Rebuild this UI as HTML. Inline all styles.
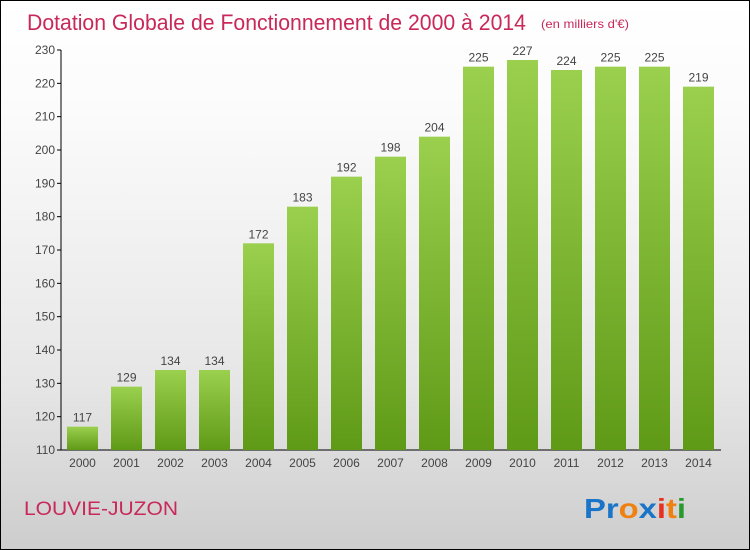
<!DOCTYPE html>
<html><head><meta charset="utf-8"><style>
body{margin:0}
#c{position:relative;width:748px;height:548px;border:1px solid #000;background:linear-gradient(#fff,#fbfbfb 20%,#e6e6e6 70%,#cdcdcd);font-family:"Liberation Sans",sans-serif;overflow:hidden}
</style></head><body>
<div id="c">
<svg width="748" height="548" id="svg" font-family="Liberation Sans, sans-serif">
<defs><linearGradient id="g" x1="0" y1="0" x2="0" y2="1"><stop offset="0" stop-color="#9ad04e"/><stop offset="1" stop-color="#5f9a17"/></linearGradient></defs>
<text x="26" y="29" font-size="22" fill="#c8285a" textLength="499" lengthAdjust="spacingAndGlyphs">Dotation Globale de Fonctionnement de 2000 à 2014</text>
<text x="540" y="27" font-size="12" fill="#c8285a" textLength="88" lengthAdjust="spacingAndGlyphs">(en milliers d'€)</text>
<text x="23" y="514" font-size="19" fill="#c8285a" textLength="154" lengthAdjust="spacingAndGlyphs">LOUVIE-JUZON</text>
<g font-size="28" font-family="Liberation Sans" font-weight="bold"><text x="583" y="517" textLength="102" lengthAdjust="spacingAndGlyphs"><tspan fill="#1a74c8">Pr</tspan><tspan fill="#f08010">o</tspan><tspan fill="#1a74c8">x</tspan><tspan fill="#e83020">i</tspan><tspan fill="#f08010">t</tspan><tspan fill="#2a9a30">i</tspan></text></g>
<g id="axes"></g><g id="bars"></g>
</svg></div>
<script>
const years=["2000","2001","2002","2003","2004","2005","2006","2007","2008","2009","2010","2011","2012","2013","2014"];
const values=[117,129,134,134,172,183,192,198,204,225,227,224,225,225,219];
const ticks=[110,120,130,140,150,160,170,180,190,200,210,220,230];
const NS="http://www.w3.org/2000/svg";
const y=v=>449-(v-110)*(400/120);
const x=i=>66+i*44;
function mk(t,a,p,txt){const e=document.createElementNS(NS,t);for(const k in a)e.setAttribute(k,a[k]);if(txt!==undefined)e.textContent=txt;p.appendChild(e);return e;}
const ax=document.getElementById('axes'),bs=document.getElementById('bars');
let l=mk('line',{x1:60,y1:y(230),x2:60,y2:449,stroke:'#000'},ax);


l=mk('line',{x1:60,y1:449,x2:720,y2:449,stroke:'#000'},ax);


ticks.forEach(t=>{
 mk('line',{x1:56,y1:y(t),x2:60,y2:y(t),stroke:'#000'},ax);
 const e=mk('text',{x:54,y:y(t)+4,'font-size':12,fill:'#444','text-anchor':'end'},ax,t);
 
 
});
years.forEach((yr,i)=>{
 const r=mk('rect',{x:x(i),y:y(values[i]),width:31,height:449-y(values[i]),fill:'url(#g)'},bs);
 
 
 const v=mk('text',{x:x(i)+15.5,y:y(values[i])-5,'font-size':12,fill:'#444','text-anchor':'middle'},bs,values[i]);
 
 
 const t=mk('text',{x:x(i)+15.5,y:466,'font-size':12,fill:'#444','text-anchor':'middle'},bs,yr);
 
 
});
</script>
</body></html>
